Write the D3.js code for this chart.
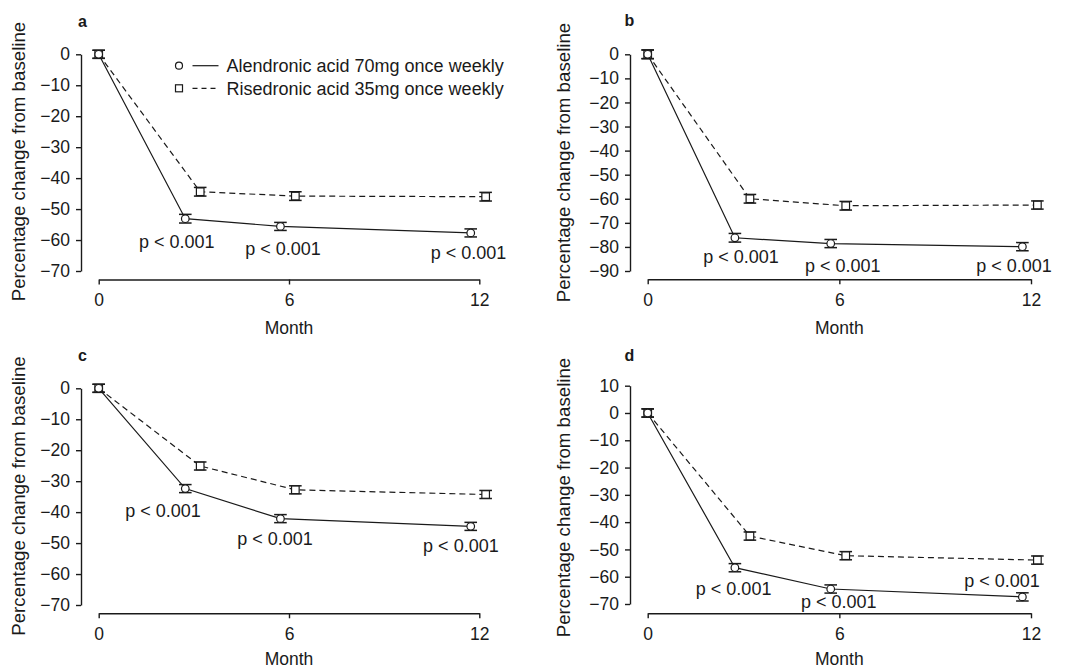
<!DOCTYPE html>
<html>
<head>
<meta charset="utf-8">
<script src="https://cdn.jsdelivr.net/npm/d3@7"></script>
<style>
  body { margin: 0; background: #fff; }
  svg { display: block; font-family: "Liberation Sans", Arial, Helvetica, sans-serif; }
</style>
</head>
<body>
<div id="chart"></div>
<script>
// #### data
const months = [0, 3, 6, 12];
const xTicks = [0, 6, 12];
const seriesNames = ['Alendronic acid 70mg once weekly', 'Risedronic acid 35mg once weekly'];
const pText = 'p < 0.001';

// panel a
const alendronicA = [0, -53.1, -55.6, -57.7];
const alendronicErrA = [1.3, 1.4, 1.3, 1.3];
const risedronicA = [0, -44.4, -45.8, -46.0];
const risedronicErrA = [1.3, 1.4, 1.4, 1.4];
const yTicksA = [0, -10, -20, -30, -40, -50, -60, -70];

// panel b
const alendronicB = [0, -76.2, -78.6, -79.9];
const alendronicErrB = [1.8, 1.8, 1.7, 1.7];
const risedronicB = [0, -60.0, -62.9, -62.6];
const risedronicErrB = [1.8, 1.8, 1.8, 1.7];
const yTicksB = [0, -10, -20, -30, -40, -50, -60, -70, -80, -90];

// panel c
const alendronicC = [0, -32.4, -42.1, -44.6];
const alendronicErrC = [1.3, 1.3, 1.3, 1.3];
const risedronicC = [0, -25.1, -32.8, -34.3];
const risedronicErrC = [1.3, 1.3, 1.3, 1.3];
const yTicksC = [0, -10, -20, -30, -40, -50, -60, -70];

// panel d
const alendronicD = [0, -56.7, -64.5, -67.4];
const alendronicErrD = [1.5, 1.5, 1.5, 1.5];
const risedronicD = [0, -45.1, -52.3, -53.9];
const risedronicErrD = [1.5, 1.5, 1.5, 1.5];
const yTicksD = [10, 0, -10, -20, -30, -40, -50, -60, -70];

// p-value annotations, placed in data units (month, value at text baseline)
const pPosA = [[2.46, -62.6], [5.81, -64.8], [11.66, -66.1]];
const pPosB = [[2.92, -86.7], [6.11, -90.4], [11.47, -90.4]];
const pPosC = [[2.03, -41.5], [5.56, -50.6], [11.42, -52.8]];
const pPosD = [[2.69, -66.7], [5.98, -71.5], [11.09, -63.7]];

// Markers are nudged sideways so the two groups do not overlap.
const alendronicShift = -0.27;
const risedronicShift = 0.2;

const fontSize = 17.5;
const ink = '#1a1a1a';

const panels = [
  { letter: 'a', yDomain: [-70, 0], yTicks: yTicksA, alendronic: alendronicA, alendronicErr: alendronicErrA,
    risedronic: risedronicA, risedronicErr: risedronicErrA, pPos: pPosA, legend: true,
    frame: { axisX: 81, x0: 98.7, x1: 479.3, yTop: 54.3, yBot: 271, xAxisY: 279.5, labelX: 18, labelY: 161.5, letterX: 78, letterY: 27, monthY: 334 } },
  { letter: 'b', yDomain: [-90, 0], yTicks: yTicksB, alendronic: alendronicB, alendronicErr: alendronicErrB,
    risedronic: risedronicB, risedronicErr: risedronicErrB, pPos: pPosB, legend: false,
    frame: { axisX: 630, x0: 647.7, x1: 1031, yTop: 54.3, yBot: 271, xAxisY: 279.3, labelX: 563, labelY: 162.5, letterX: 624.5, letterY: 26, monthY: 334 } },
  { letter: 'c', yDomain: [-70, 0], yTicks: yTicksC, alendronic: alendronicC, alendronicErr: alendronicErrC,
    risedronic: risedronicC, risedronicErr: risedronicErrC, pPos: pPosC, legend: false,
    frame: { axisX: 81, x0: 98.7, x1: 479.3, yTop: 388.3, yBot: 605, xAxisY: 613.3, labelX: 18, labelY: 496, letterX: 78, letterY: 360.5, monthY: 665 } },
  { letter: 'd', yDomain: [-70, 10], yTicks: yTicksD, alendronic: alendronicD, alendronicErr: alendronicErrD,
    risedronic: risedronicD, risedronicErr: risedronicErrD, pPos: pPosD, legend: false,
    frame: { axisX: 630, x0: 647.7, x1: 1031, yTop: 385.7, yBot: 604, xAxisY: 613.3, labelX: 563, labelY: 497.5, letterX: 624.5, letterY: 361, monthY: 665 } },
];

const svg = d3.select('#chart')
  .append('svg')
  .attr('width', 1070)
  .attr('height', 669);

const styleAxis = axisGroup => {
  axisGroup.attr('font-size', fontSize).attr('font-family', null);
  axisGroup.selectAll('.domain').attr('stroke', ink).attr('stroke-width', 1.4);
  axisGroup.selectAll('.tick line').attr('stroke', ink).attr('stroke-width', 1.4);
  axisGroup.selectAll('.tick text').attr('fill', ink);
}

const drawPanel = p => {
  const f = p.frame;
  const x = d3.scaleLinear().domain([0, 12]).range([f.x0, f.x1]);
  const y = d3.scaleLinear().domain(p.yDomain).range([f.yBot, f.yTop]);
  const g = svg.append('g').attr('class', 'panel panel--' + p.letter);

  g.append('g')
    .attr('transform', `translate(${ f.axisX },0)`)
    .call(d3.axisLeft(y).tickValues(p.yTicks).tickSize(5).tickSizeOuter(0).tickPadding(6))
    .call(styleAxis);

  g.append('g')
    .attr('transform', `translate(0,${ f.xAxisY })`)
    .call(d3.axisBottom(x).tickValues(xTicks).tickSize(5).tickSizeOuter(0).tickPadding(9))
    .call(styleAxis);

  // axis titles
  g.append('text')
    .attr('transform', `translate(${ f.labelX },${ f.labelY }) rotate(-90)`)
    .attr('dy', '0.35em')
    .attr('text-anchor', 'middle')
    .attr('font-size', 18.7)
    .attr('fill', ink)
    .text('Percentage change from baseline');

  g.append('text')
    .attr('x', (f.x0 + f.x1) / 2)
    .attr('y', f.monthY)
    .attr('text-anchor', 'middle')
    .attr('font-size', fontSize)
    .attr('fill', ink)
    .text('Month');

  g.append('text')
    .attr('x', f.letterX)
    .attr('y', f.letterY)
    .attr('font-size', 16)
    .attr('font-weight', 'bold')
    .attr('fill', ink)
    .text(p.letter);

  const series = [
    { values: p.risedronic, err: p.risedronicErr, shift: risedronicShift, dash: '6,4', marker: 'square' },
    { values: p.alendronic, err: p.alendronicErr, shift: alendronicShift, dash: null, marker: 'circle' },
  ];

  series.forEach(s => {
    const mx = i => x(months[i] + (months[i] === 0 ? 0 : s.shift));
    const line = d3.line().x((d, i) => mx(i)).y(d => y(d));

    g.append('path')
      .datum(s.values)
      .attr('fill', 'none')
      .attr('stroke', ink)
      .attr('stroke-width', 1.2)
      .attr('stroke-dasharray', s.dash)
      .attr('d', line);

    const pts = g.append('g')
      .selectAll('g')
      .data(s.values)
      .enter().append('g');

    // error bars
    pts.append('line')
      .attr('x1', (d, i) => mx(i)).attr('x2', (d, i) => mx(i))
      .attr('y1', (d, i) => y(d + s.err[i])).attr('y2', (d, i) => y(d - s.err[i]))
      .attr('stroke', ink).attr('stroke-width', 1.3);
    [1, -1].forEach(sign => {
      pts.append('line')
        .attr('x1', (d, i) => mx(i) - 6.3).attr('x2', (d, i) => mx(i) + 6.3)
        .attr('y1', (d, i) => y(d + sign * s.err[i])).attr('y2', (d, i) => y(d + sign * s.err[i]))
        .attr('stroke', ink).attr('stroke-width', 1.5);
    });

    if (s.marker === 'circle') {
      pts.append('circle')
        .attr('cx', (d, i) => mx(i))
        .attr('cy', d => y(d))
        .attr('r', 3.8)
        .attr('fill', '#fff')
        .attr('stroke', ink)
        .attr('stroke-width', 1.2);
    } else {
      pts.append('rect')
        .attr('x', (d, i) => mx(i) - 3.8)
        .attr('y', d => y(d) - 3.8)
        .attr('width', 7.6)
        .attr('height', 7.6)
        .attr('fill', '#fff')
        .attr('stroke', ink)
        .attr('stroke-width', 1.2);
    }
  });

  // p-value annotations
  g.append('g')
    .selectAll('text')
    .data(p.pPos)
    .enter().append('text')
    .attr('x', d => x(d[0]))
    .attr('y', d => y(d[1]))
    .attr('text-anchor', 'middle')
    .attr('font-size', 18)
    .attr('fill', ink)
    .text(pText);

  if (p.legend) {
    const legend = g.append('g')
      .selectAll('g')
      .data(seriesNames)
      .enter().append('g')
      .attr('transform', (d, i) => `translate(179,${ 65.7 + i * 22.6 })`);

    legend.append('line')
      .attr('x1', 13.5).attr('x2', 39.5)
      .attr('stroke', ink).attr('stroke-width', 1.2)
      .attr('stroke-dasharray', (d, i) => i === 1 ? '5,4' : null);

    legend.filter((d, i) => i === 0).append('circle')
      .attr('r', 3.5).attr('fill', '#fff').attr('stroke', ink).attr('stroke-width', 1.2);
    legend.filter((d, i) => i === 1).append('rect')
      .attr('x', -3.5).attr('y', -3.5).attr('width', 7).attr('height', 7)
      .attr('fill', '#fff').attr('stroke', ink).attr('stroke-width', 1.2);

    legend.append('text')
      .attr('x', 47.5)
      .attr('dy', '0.36em')
      .attr('font-size', 18)
      .attr('fill', ink)
      .text(d => d);
  }
}

panels.forEach(drawPanel);
</script>
</body>
</html>
